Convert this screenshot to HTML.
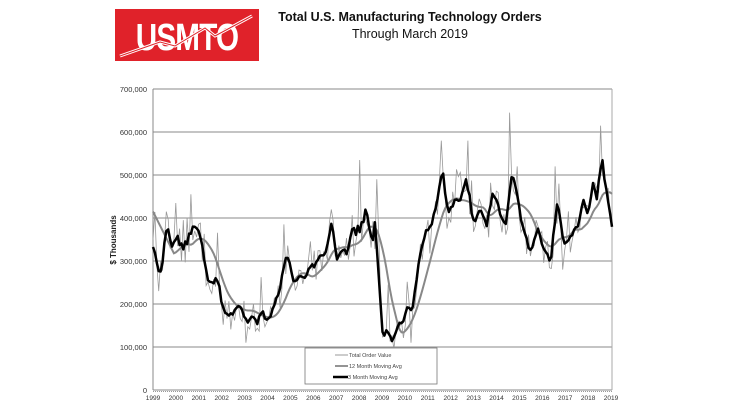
<!DOCTYPE html>
<html><head><meta charset="utf-8"><style>
html,body{margin:0;padding:0;background:#fff;}
body{width:736px;height:414px;overflow:hidden;position:relative;font-family:"Liberation Sans",sans-serif;}
</style></head><body>
<svg id="s" width="736" height="414" xmlns="http://www.w3.org/2000/svg" style="position:absolute;left:0;top:0">
<rect x="115" y="9" width="144" height="52" fill="#e0222a"/>
<text x="187" y="50" text-anchor="middle" font-family="Liberation Sans,sans-serif" font-weight="bold" font-size="38" fill="#fff" transform="translate(187 0) scale(0.78 1) translate(-187 0)" letter-spacing="-1">USMTO</text>
<polyline points="120,56 160,42 175,46 205,28 215,36 252,16" fill="none" stroke="#fff" stroke-width="3"/>
<polyline points="120,56 160,42 175,46 205,28 215,36 252,16" fill="none" stroke="#e0222a" stroke-width="1"/>
<text x="410" y="21" text-anchor="middle" font-weight="bold" font-size="12.5" fill="#111">Total U.S. Manufacturing Technology Orders</text>
<text x="410" y="38" text-anchor="middle" font-size="12.5" fill="#111">Through March 2019</text>
<g id="grid"></g>
<g id="series"></g>
<rect x="305" y="348" width="132" height="36" fill="#fff" stroke="#777" stroke-width="0.8"/>
<line x1="335" y1="355" x2="348" y2="355" stroke="#999" stroke-width="1"/>
<text x="349" y="357" font-size="5.5" fill="#444">Total Order Value</text>
<line x1="335" y1="366" x2="348" y2="366" stroke="#888" stroke-width="1.8"/>
<text x="349" y="368" font-size="5.5" fill="#444">12 Month Moving Avg</text>
<line x1="333" y1="377" x2="348" y2="377" stroke="#000" stroke-width="2.5"/>
<text x="348" y="379" font-size="5.5" fill="#444">3 Month Moving Avg</text>
<text transform="translate(116 240) rotate(-90)" text-anchor="middle" font-size="8" font-weight="bold" fill="#222">$ Thousands</text>
</svg>
<script>
var g=document.getElementById('grid'),S=document.getElementById('series'),ns="http://www.w3.org/2000/svg";
function el(p,t,a,txt){var e=document.createElementNS(ns,t);for(var k in a)e.setAttribute(k,a[k]);if(txt!=null)e.textContent=txt;p.appendChild(e);return e;}
var X0=153,X1=612,Y0=390,PY=0.43;
function vy(v){return Y0-v*PY;}
for(var i=0;i<=7;i++){var y=vy(i*100);
 el(g,'line',{x1:X0,x2:X1,y1:y,y2:y,stroke:'#888','stroke-width':1});
 el(g,'text',{x:147,y:y+3,'text-anchor':'end','font-size':7.5,fill:'#333'},i==0?'0':(i*100)+',000');}
el(g,'line',{x1:X0,x2:X0,y1:89,y2:390,stroke:'#888','stroke-width':1});
el(g,'line',{x1:X1,x2:X1,y1:89,y2:390,stroke:'#aaa','stroke-width':1});
el(g,'line',{x1:X0,x2:X1,y1:391.5,y2:391.5,stroke:'#999','stroke-width':1,'stroke-dasharray':'1 1'});
for(var yr=1999;yr<=2019;yr++){var x=X0+(yr-1999)*22.9;el(g,'text',{x:x,y:400,'text-anchor':'middle','font-size':6.5,fill:'#333'},''+yr);}
var kp=[[153,257],[158,270],[162,268],[165,240],[168,233],[173,250],[178,243],[183,250],[190,240],[195,222],[200,237],[207,275],[213,280],[220,297],[227,317],[233,310],[240,302],[245,315],[253,317],[258,320],[263,315],[270,320],[277,297],[283,273],[288,258],[293,280],[300,277],[307,278],[313,270],[320,255],[325,252],[332,228],[337,260],[343,248],[347,255],[353,220],[360,243],[366,202],[372,242],[375,232],[382,333],[390,345],[400,322],[412,302],[420,253],[425,233],[433,217],[443,178],[448,203],[460,212],[465,180],[473,223],[482,212],[487,223],[493,190],[500,213],[507,223],[513,175],[523,227],[530,252],[538,232],[543,248],[550,260],[558,208],[567,248],[572,232],[578,225],[583,197],[588,217],[593,185],[597,203],[602,163],[607,197],[612,227]];
function interp(x){for(var i=0;i<kp.length-1;i++){if(x<=kp[i+1][0]){var t=(x-kp[i][0])/(kp[i+1][0]-kp[i][0]);return kp[i][1]+t*(kp[i+1][1]-kp[i][1]);}}return kp[kp.length-1][1];}
var seed=11;function rnd(){seed=(seed*16807)%2147483647;return seed/2147483647;}
var N=243,xs=[],base=[],th=[],raw=[],ma=[];
for(var i=0;i<N;i++){var x=X0+i*(X1-X0)/(N-1);xs.push(x);base.push(interp(x));}
for(var i=0;i<N;i++){var n=(rnd()-0.5)*34;var r=rnd();if(r<0.07)n-=22+rnd()*25;else if(r<0.12)n+=15+rnd()*12;raw.push(Math.min(388,base[i]+n));}
var spikes=[[166,415],[176,435],[183,395],[190,455],[284,385],[332,420],[360,535],[377,490],[441,580],[467,580],[510,645],[517,520],[555,520],[559,480],[600,615],[158,230],[245,110],[563,280]];
spikes.forEach(function(s){var best=0,bd=1e9;for(var i=0;i<N;i++){var d=Math.abs(xs[i]-s[0]);if(d<bd){bd=d;best=i;}}raw[best]=vy(s[1]);});
for(var i=0;i<N;i++){var a=raw[Math.max(0,i-1)],b=raw[i],c=raw[Math.min(N-1,i+1)];var nz=(a+b+c)/3-(base[Math.max(0,i-1)]+base[i]+base[Math.min(N-1,i+1)])/3;th.push(base[i]+Math.max(-10,Math.min(10,nz*0.4)));}
for(var i=0;i<N;i++){var s=0,c=0;for(var j=Math.max(0,i-11);j<=i;j++){s+=base[j];c++;}ma.push(s/c);}
for(var i=0;i<11;i++){var t=i/11;ma[i]=vy(415)*(1-t)+ma[11]*t;}
function pts(a){return a.map(function(v,i){return xs[i].toFixed(1)+','+v.toFixed(1);}).join(' ');}
el(S,'polyline',{points:pts(raw),fill:'none',stroke:'#999','stroke-width':0.8});
el(S,'polyline',{points:pts(ma),fill:'none',stroke:'#888','stroke-width':2});
el(S,'polyline',{points:pts(th),fill:'none',stroke:'#000','stroke-width':2.5,'stroke-linejoin':'round'});
</script>
</body></html>
